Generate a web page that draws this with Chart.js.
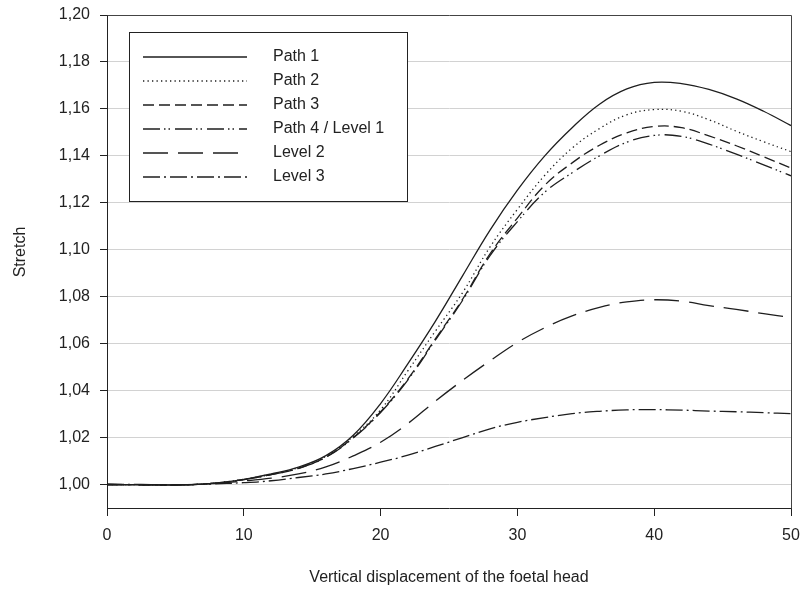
<!DOCTYPE html>
<html><head><meta charset="utf-8">
<script src="https://cdn.jsdelivr.net/npm/chart.js@4.4.1/dist/chart.umd.min.js"></script>
<style>html,body{margin:0;padding:0;background:#fff}#wrap{width:804px;height:589px}</style>
</head><body><div id="wrap"><canvas id="c" width="804" height="589"></canvas></div>
<script>
const xValues = [0, 2.5, 5, 7.5, 10, 12, 14, 16, 18, 20, 22, 24, 26, 28, 30, 32, 34, 36, 38, 40, 42, 44, 46, 48, 50];
const path1  = [1.0000, 0.9999, 0.9998, 1.0004, 1.0022, 1.0045, 1.0074, 1.0123, 1.0210, 1.0345, 1.0515, 1.0695, 1.0890, 1.1084, 1.1254, 1.1400, 1.1520, 1.1620, 1.1685, 1.1713, 1.1708, 1.1683, 1.1643, 1.1590, 1.1529];
const path2  = [1.0000, 0.9999, 0.9998, 1.0004, 1.0022, 1.0044, 1.0072, 1.0120, 1.0205, 1.0318, 1.0485, 1.0653, 1.0818, 1.1012, 1.1172, 1.1317, 1.1433, 1.1516, 1.1575, 1.1597, 1.1590, 1.1554, 1.1505, 1.1460, 1.1418];
const path3  = [1.0000, 0.9999, 0.9998, 1.0004, 1.0021, 1.0042, 1.0069, 1.0117, 1.0200, 1.0310, 1.0450, 1.0620, 1.0790, 1.0983, 1.1135, 1.1275, 1.1370, 1.1445, 1.1498, 1.1525, 1.1520, 1.1485, 1.1443, 1.1396, 1.1348];
const path4  = [1.0000, 0.9999, 0.9998, 1.0004, 1.0021, 1.0042, 1.0069, 1.0116, 1.0198, 1.0307, 1.0446, 1.0615, 1.0785, 1.0975, 1.1120, 1.1245, 1.1328, 1.1400, 1.1458, 1.1487, 1.1483, 1.1450, 1.1407, 1.1362, 1.1315];
const level2 = [1.0000, 0.9999, 0.9999, 1.0003, 1.0015, 1.0027, 1.0045, 1.0075, 1.0122, 1.0180, 1.0260, 1.0355, 1.0444, 1.0527, 1.0605, 1.0668, 1.0718, 1.0755, 1.0778, 1.0787, 1.0781, 1.0762, 1.0746, 1.0728, 1.0712];
const level3 = [1.0000, 1.0000, 0.9999, 1.0002, 1.0008, 1.0016, 1.0030, 1.0045, 1.0068, 1.0095, 1.0125, 1.0162, 1.0200, 1.0237, 1.0265, 1.0285, 1.0302, 1.0312, 1.0318, 1.0319, 1.0317, 1.0313, 1.0310, 1.0306, 1.0302];
const seriesLabels = ['Path 1', 'Path 2', 'Path 3', 'Path 4 / Level 1', 'Level 2', 'Level 3'];
const yTickValues = [1.00, 1.02, 1.04, 1.06, 1.08, 1.10, 1.12, 1.14, 1.16, 1.18, 1.20];
const xTickValues = [0, 10, 20, 30, 40, 50];
const xTitle = 'Vertical displacement of the foetal head';
const yTitle = 'Stretch';

const seriesValues = [path1, path2, path3, path4, level2, level3];
const dashes = [[], [1.3, 3.2], [11, 5], [17, 4, 1.5, 3, 1.5, 5], [25, 10], [17, 4, 2, 4]];
const ink = '#1e1e1e';
const FONT = "'Liberation Sans', Arial, sans-serif";

Chart.defaults.font.family = FONT;
Chart.defaults.font.size = 16;
Chart.defaults.color = '#222';

const datasets = seriesValues.map((vals, i) => ({
  label: seriesLabels[i],
  data: xValues.map((x, j) => ({x: x, y: vals[j]})),
  borderColor: ink,
  borderWidth: 1.3,
  borderDash: dashes[i],
  borderCapStyle: 'butt',
  pointRadius: 0,
  tension: 0.4,
  fill: false
}));

const framePlugin = {
  id: 'frame',
  beforeDatasetsDraw(chart) {
    const {ctx, chartArea: a} = chart;
    ctx.save();
    ctx.strokeStyle = '#444';
    ctx.lineWidth = 1;
    ctx.beginPath();
    ctx.moveTo(Math.round(a.left) + 0.5, Math.round(a.top) + 0.5);
    ctx.lineTo(Math.round(a.right) + 0.5, Math.round(a.top) + 0.5);
    ctx.lineTo(Math.round(a.right) + 0.5, Math.round(a.bottom) + 0.5);
    ctx.stroke();
    // y axis title
    ctx.fillStyle = '#222';
    ctx.font = '16px ' + FONT;
    ctx.textAlign = 'center';
    ctx.textBaseline = 'middle';
    ctx.translate(21, 252);
    ctx.rotate(-Math.PI / 2);
    ctx.fillText(yTitle, 0, 0);
    ctx.restore();
  }
};

const legendPlugin = {
  id: 'boxLegend',
  afterDatasetsDraw(chart) {
    const ctx = chart.ctx;
    ctx.save();
    const bx = 129.5, by = 32.5, bw = 278, bh = 169;
    ctx.fillStyle = '#fff';
    ctx.fillRect(bx, by, bw, bh);
    ctx.strokeStyle = '#222';
    ctx.lineWidth = 1;
    ctx.strokeRect(bx, by, bw, bh);
    chart.data.datasets.forEach((ds, i) => {
      const y = 57 + i * 24;
      ctx.beginPath();
      ctx.setLineDash(ds.borderDash || []);
      ctx.lineWidth = ds.borderWidth;
      ctx.strokeStyle = ds.borderColor;
      ctx.moveTo(143, y);
      ctx.lineTo(247, y);
      ctx.stroke();
      ctx.setLineDash([]);
      ctx.fillStyle = '#222';
      ctx.font = '16px ' + FONT;
      ctx.textBaseline = 'middle';
      ctx.textAlign = 'left';
      ctx.fillText(ds.label, 273, y);
    });
    ctx.restore();
  }
};

const zeroPad = s => { s.paddingTop = 0; s.paddingBottom = 0; s.paddingLeft = 0; s.paddingRight = 0; };

new Chart(document.getElementById('c'), {
  type: 'line',
  data: {datasets},
  options: {
    responsive: false,
    devicePixelRatio: 1,
    animation: false,
    layout: {padding: {top: 15, right: 13, left: 0, bottom: 0}},
    plugins: {legend: {display: false}, tooltip: {enabled: false}},
    scales: {
      x: {
        type: 'linear', min: 0, max: 50,
        afterBuildTicks: s => { s.ticks = xTickValues.map(v => ({value: v})); },
        afterFit: s => { s.height = 81; zeroPad(s); },
        grid: {drawOnChartArea: false, tickLength: 8, color: '#222', tickColor: '#222'},
        border: {color: '#222', width: 1},
        ticks: {padding: 10, color: '#222', maxRotation: 0},
        title: {display: true, text: xTitle, color: '#222', padding: {top: 0, bottom: 2}}
      },
      y: {
        type: 'linear', min: 0.99, max: 1.20,
        afterBuildTicks: s => { s.ticks = yTickValues.map(v => ({value: v})); },
        afterFit: s => { s.width = 107; zeroPad(s); },
        grid: {color: '#d2d2d2', tickColor: '#222', tickLength: 7},
        border: {color: '#222', width: 1},
        ticks: {padding: 10, color: '#222', callback: v => v.toFixed(2).replace('.', ',')},
        title: {display: false, text: yTitle}
      }
    }
  },
  plugins: [framePlugin, legendPlugin]
});
</script>
</body></html>
